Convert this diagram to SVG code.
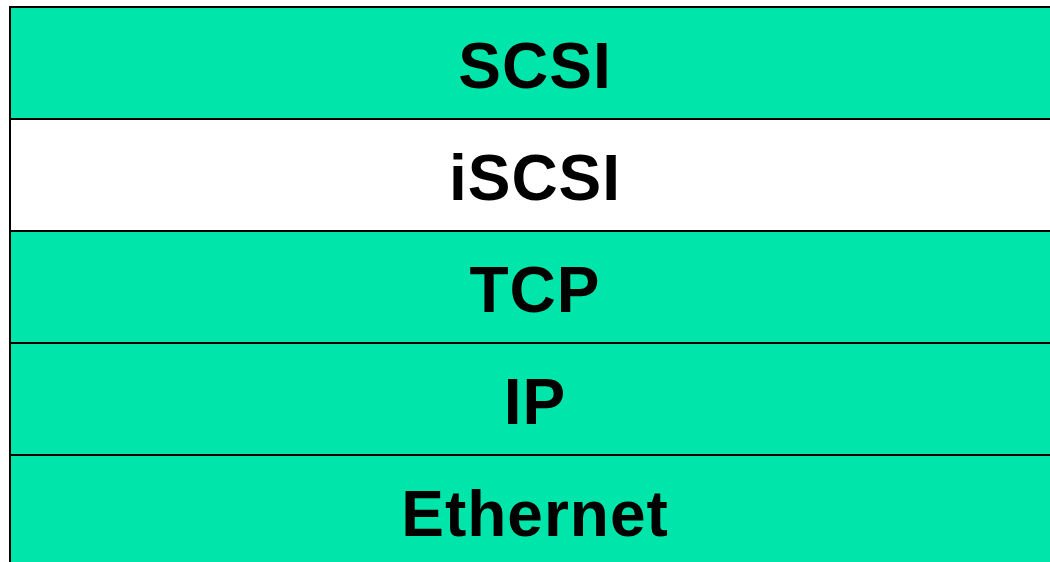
<svg xmlns="http://www.w3.org/2000/svg" width="1050" height="562" viewBox="0 0 1050 562">
<style>
.g{fill:#00E5AA;stroke:#000;stroke-width:2}
.w{fill:#fff;stroke:#000;stroke-width:2}
.t{font-family:"Liberation Sans",Arial,sans-serif;font-weight:bold;font-size:64px;fill:#000;text-anchor:middle;letter-spacing:1px}
</style>
<rect width="1050" height="562" fill="#fff"/>
<g id="scsi"><rect class="g" x="10" y="7" width="1060" height="112"/><text class="t" x="535" y="88">SCSI</text></g>
<g id="iscsi"><rect class="w" x="10" y="119" width="1060" height="112"/><text class="t" x="535" y="200">iSCSI</text></g>
<g id="tcp"><rect class="g" x="10" y="231" width="1060" height="112"/><text class="t" x="535" y="312">TCP</text></g>
<g id="ip"><rect class="g" x="10" y="343" width="1060" height="112"/><text class="t" x="535" y="424">IP</text></g>
<g id="ethernet"><rect class="g" x="10" y="455" width="1060" height="120"/><text class="t" x="535" y="536">Ethernet</text></g>
<g id="connectors"/>
</svg>
